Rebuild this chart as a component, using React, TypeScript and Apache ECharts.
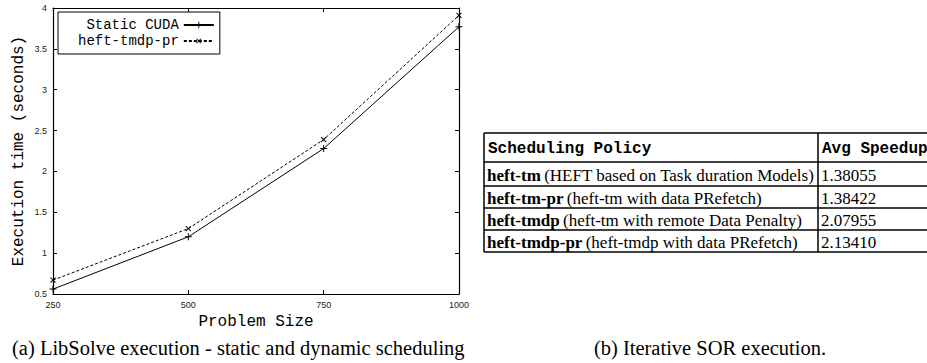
import React, { useEffect, useRef } from "react";
import * as echarts from "echarts";

const problemSizes = [250, 500, 750, 1000];
const staticCuda = [0.56, 1.2, 2.28, 3.77];
const heftTmdpPr = [0.67, 1.3, 2.39, 3.91];
const seriesNames = ["Static CUDA", "heft-tmdp-pr"];

const tableHeader = ["Scheduling Policy", "Avg Speedup"];
const policyNames = ["heft-tm", "heft-tm-pr", "heft-tmdp", "heft-tmdp-pr"];
const policyDescs = [
  "(HEFT based on Task duration Models)",
  "(heft-tm with data PRefetch)",
  "(heft-tm with remote Data Penalty)",
  "(heft-tmdp with data PRefetch)",
];
const speedups = ["1.38055", "1.38422", "2.07955", "2.13410"];

const captionA = "(a) LibSolve execution - static and dynamic scheduling";
const captionB = "(b) Iterative SOR execution.";

const PLUS = "path://M4.3,0H5.7V4.3H10V5.7H5.7V10H4.3V5.7H0V4.3H4.3Z";

export default function App() {
  const ref = useRef<HTMLDivElement>(null);
  useEffect(() => {
    if (!ref.current) return;
    const chart = echarts.init(ref.current, null, { renderer: "svg" });
    const mono = "Liberation Mono";
    const serif = "Liberation Serif";
    const sans = "Liberation Sans";

    const tableLeft = 484;
    const tableRight = 940;
    const colDiv = 818;
    const rowLines = [133, 162, 186, 208, 230, 252];

    const graphics: any[] = [];
    rowLines.forEach((y) => {
      graphics.push({
        type: "line",
        shape: { x1: tableLeft, y1: y, x2: tableRight, y2: y },
        style: { stroke: "#000", lineWidth: 1.5 },
      });
    });
    [tableLeft, colDiv].forEach((x) => {
      graphics.push({
        type: "line",
        shape: { x1: x, y1: rowLines[0], x2: x, y2: rowLines[rowLines.length - 1] },
        style: { stroke: "#000", lineWidth: 1.5 },
      });
    });
    graphics.push({
      type: "text",
      x: tableLeft + 4,
      y: (rowLines[0] + rowLines[1]) / 2 + 1,
      style: {
        text: tableHeader[0],
        font: `bold 16px "${mono}"`,
        fill: "#000",
        verticalAlign: "middle",
      },
    });
    graphics.push({
      type: "text",
      x: colDiv + 4,
      y: (rowLines[0] + rowLines[1]) / 2 + 1,
      style: {
        text: tableHeader[1],
        font: `bold 16px "${mono}"`,
        fill: "#000",
        verticalAlign: "middle",
      },
    });
    policyNames.forEach((name, i) => {
      const yc = (rowLines[i + 1] + rowLines[i + 2]) / 2 + 1;
      graphics.push({
        type: "text",
        x: tableLeft + 3,
        y: yc,
        style: {
          text: `{b|${name}} {n|${policyDescs[i]}}`,
          verticalAlign: "middle",
          rich: {
            b: { fontFamily: serif, fontWeight: "bold", fontSize: 17, fill: "#000" },
            n: { fontFamily: serif, fontSize: 17, fill: "#000" },
          },
        },
      });
      graphics.push({
        type: "text",
        x: colDiv + 3,
        y: yc,
        style: {
          text: speedups[i],
          font: `17px "${serif}"`,
          fill: "#000",
          verticalAlign: "middle",
        },
      });
    });
    graphics.push({
      type: "text",
      x: 12,
      y: 348,
      style: {
        text: captionA,
        font: `20.5px "${serif}"`,
        fill: "#000",
        verticalAlign: "middle",
      },
    });
    graphics.push({
      type: "text",
      x: 710,
      y: 348,
      style: {
        text: captionB,
        font: `20.5px "${serif}"`,
        fill: "#000",
        align: "center",
        verticalAlign: "middle",
      },
    });

    const axisLine = { show: true, lineStyle: { color: "#000", width: 1.2 } };
    const axisTick = { show: true, inside: true, length: 4, lineStyle: { color: "#000" } };
    const tickLabel = { fontFamily: sans, fontSize: 9, color: "#222" };

    chart.setOption({
      animation: false,
      backgroundColor: "#fff",
      grid: { left: 53, top: 8, right: 468, bottom: 69, containLabel: false },
      legend: {
        left: 58,
        top: 12,
        orient: "vertical",
        align: "right",
        itemWidth: 30,
        itemHeight: 8,
        itemGap: 2,
        padding: [6, 5, 6, 20],
        borderColor: "#000",
        borderWidth: 1,
        backgroundColor: "#fff",
        textStyle: { fontFamily: mono, fontSize: 14, color: "#000" },
        data: seriesNames,
      },
      xAxis: [
        {
          type: "value",
          min: 250,
          max: 1000,
          interval: 250,
          name: "Problem Size",
          nameLocation: "middle",
          nameGap: 20,
          nameTextStyle: { fontFamily: mono, fontSize: 16, color: "#000" },
          axisLine,
          axisTick,
          axisLabel: { ...tickLabel, margin: 6, formatter: (v: number) => String(v) },
          splitLine: { show: false },
        },
        {
          type: "value",
          position: "top",
          min: 250,
          max: 1000,
          interval: 250,
          axisLine,
          axisTick,
          axisLabel: { show: false },
          splitLine: { show: false },
        },
      ],
      yAxis: [
        {
          type: "value",
          min: 0.5,
          max: 4,
          interval: 0.5,
          name: "Execution time (seconds)",
          nameLocation: "middle",
          nameGap: 26,
          nameRotate: 90,
          nameTextStyle: { fontFamily: mono, fontSize: 16, color: "#000" },
          axisLine,
          axisTick,
          axisLabel: { ...tickLabel, margin: 6 },
          splitLine: { show: false },
        },
        {
          type: "value",
          position: "right",
          min: 0.5,
          max: 4,
          interval: 0.5,
          axisLine,
          axisTick,
          axisLabel: { show: false },
          splitLine: { show: false },
        },
      ],
      series: [
        {
          name: seriesNames[0],
          type: "line",
          data: problemSizes.map((x, i) => [x, staticCuda[i]]),
          symbol: PLUS,
          symbolSize: 7,
          showSymbol: true,
          lineStyle: { color: "#000", width: 1, type: "solid" },
          itemStyle: { color: "#000" },
        },
        {
          name: seriesNames[1],
          type: "line",
          data: problemSizes.map((x, i) => [x, heftTmdpPr[i]]),
          symbol: PLUS,
          symbolRotate: 45,
          symbolSize: 7,
          showSymbol: true,
          lineStyle: { color: "#000", width: 1, type: [3, 2] },
          itemStyle: { color: "#000" },
        },
      ],
      graphic: graphics,
    });
    return () => chart.dispose();
  }, []);
  return (
    <div
      ref={ref}
      style={{ position: "fixed", left: 0, top: 0, width: 927, height: 363, background: "#fff" }}
    />
  );
}
